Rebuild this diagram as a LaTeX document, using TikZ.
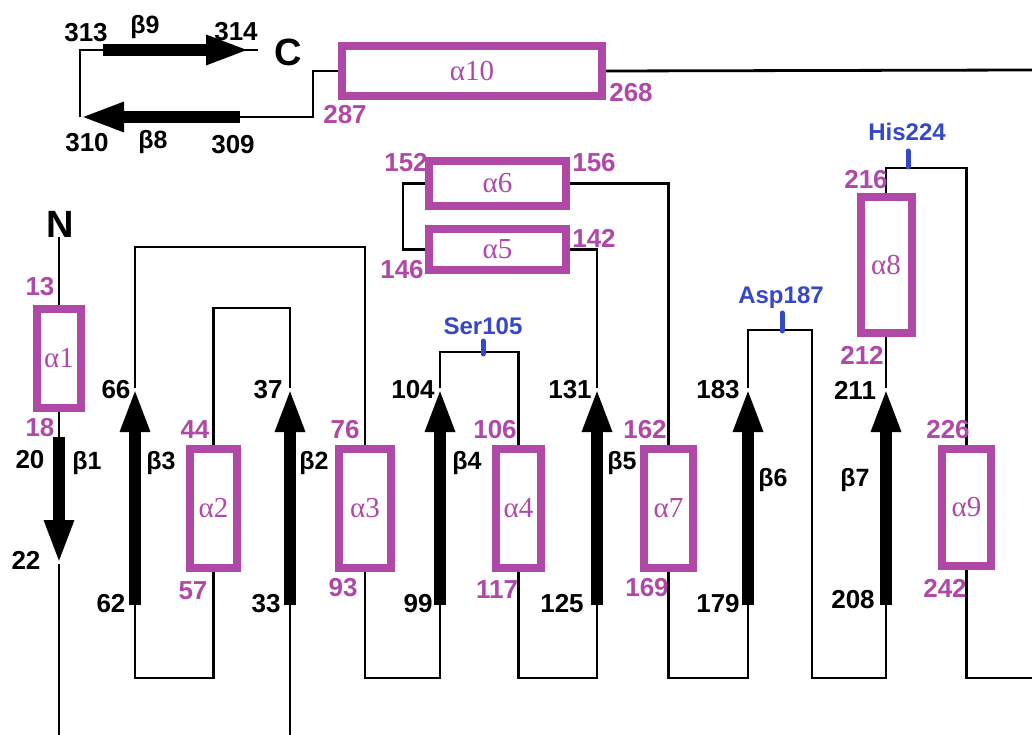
\documentclass[tikz,border=0pt]{standalone}
\usepackage{fontspec}
\setmainfont{Liberation Sans}
\newfontfamily\serifgreek{Liberation Serif}
\usetikzlibrary{arrows.meta}
\definecolor{mag}{RGB}{176,72,168}
\definecolor{blu}{RGB}{52,72,200}
\begin{document}
\begin{tikzpicture}[x=1pt,y=-1pt,
 loop/.style={line width=2.8pt, draw=black, line join=miter},
 strand/.style={line width=12pt, draw=black, -{Triangle[width=27pt,length=44pt]}},
 helix/.style={draw=mag, line width=8pt, fill=white, inner sep=0pt, outer sep=4pt, font=\serifgreek\fontsize{29}{29}\selectfont, text=mag},
 bnum/.style={font=\bfseries\fontsize{26}{26}\selectfont, inner sep=0pt, text=black},
 mnum/.style={font=\bfseries\fontsize{26}{26}\selectfont, inner sep=0pt, text=mag},
 blab/.style={font=\bfseries\fontsize{25}{25}\selectfont, inner sep=0pt, text=black},
 res/.style={font=\bfseries\fontsize{24}{24}\selectfont, text=blu, inner sep=0pt},
 big/.style={font=\bfseries\fontsize{38}{38}\selectfont, inner sep=0pt},
 tick/.style={draw=blu, line width=5pt, line cap=round}
]
\useasboundingbox[fill=white] (0,0) rectangle (1032,735);

% helices
\node[helix, minimum width=44pt, minimum height=99pt] (a1) at (59,358.5) {α1};
\node[helix, minimum width=47pt, minimum height=119pt] (a2) at (213.5,508.5) {α2};
\node[helix, minimum width=52pt, minimum height=119pt] (a3) at (365,508.5) {α3};
\node[helix, minimum width=45pt, minimum height=119pt] (a4) at (518.5,508.5) {α4};
\node[helix, minimum width=137pt, minimum height=41pt] (a5) at (497.5,249.5) {α5};
\node[helix, minimum width=137pt, minimum height=45pt] (a6) at (497.5,183.5) {α6};
\node[helix, minimum width=49pt, minimum height=119pt] (a7) at (668.5,508.5) {α7};
\node[helix, minimum width=51pt, minimum height=136pt] (a8) at (886,265) {α8};
\node[helix, minimum width=49pt, minimum height=117pt] (a9) at (966.5,507.5) {α9};
\node[helix, minimum width=260pt, minimum height=50pt] (a10) at (472,71) {α10};

% termini
\node[big] (N) at (60,224) {N};
\node[big] (C) at (288,52) {C};

% strand coordinates
\coordinate (b1t) at (59,437);   \coordinate (b1h) at (59,564);
\coordinate (b2t) at (290,605);  \coordinate (b2h) at (290,388);
\coordinate (b3t) at (135,605);  \coordinate (b3h) at (135,388);
\coordinate (b4t) at (440,605);  \coordinate (b4h) at (440,388);
\coordinate (b5t) at (597,605);  \coordinate (b5h) at (597,388);
\coordinate (b6t) at (748,605);  \coordinate (b6h) at (748,388);
\coordinate (b7t) at (886,605);  \coordinate (b7h) at (886,388);
\coordinate (b8t) at (240,117);  \coordinate (b8h) at (80,117);
\coordinate (b9t) at (103,50);   \coordinate (b9h) at (250,50);
\coordinate (nbot) at (59,735);
\coordinate (b2bot) at (290,735);
\coordinate (cend) at (258,50);
\coordinate (rA) at (1032,70);
\coordinate (rB) at (1032,678);

% loops
\draw[loop] (a1.north |- N.south) -- (a1.north);
\draw[loop] (a1.south) -- (b1t);
\draw[loop] (b1h) -- (nbot);
\draw[loop] (b2bot) -- (b2t);
\draw[loop] (b2h) |- (a2.north |- 0,308) -- (a2.north);
\draw[loop] (a2.south) |- (135,678) -- (b3t);
\draw[loop] (b3h) |- (a3.north |- 0,247) -- (a3.north);
\draw[loop] (a3.south) |- (440,678) -- (b4t);
\draw[loop] (b4h) |- (a4.north |- 0,352) -- (a4.north);
\draw[loop] (a4.south) |- (597,678) -- (b5t);
\draw[loop] (b5h) |- (a5.east);
\draw[loop] (a5.west) -- (403,249.5) |- (a6.west);
\draw[loop] (a6.east) -| (a7.north);
\draw[loop] (a7.south) |- (748,678) -- (b6t);
\draw[loop] (b6h) |- (812,330) |- (886,678) -- (b7t);
\draw[loop] (b7h) -- (a8.south);
\draw[loop] (a8.north) |- (a9.north |- 0,168) -- (a9.north);
\draw[loop] (a9.south) |- (rB);
\draw[loop] (rA) -- (a10.east);
\draw[loop] (a10.west) -| (313,117) -- (b8t);
\draw[loop] (b8h) |- (b9t);
\draw[loop] (b9t) -- (cend);

% strands
\draw[strand] (b1t) -- (b1h);
\draw[strand] (b2t) -- (b2h);
\draw[strand] (b3t) -- (b3h);
\draw[strand] (b4t) -- (b4h);
\draw[strand] (b5t) -- (b5h);
\draw[strand] (b6t) -- (b6h);
\draw[strand] (b7t) -- (b7h);
\draw[strand] (b8t) -- (b8h);
\draw[strand] (b9t) -- (b9h);

% active-site ticks
\draw[tick] (483,341) -- (483,354);
\draw[tick] (782,313) -- (782,331);
\draw[tick] (908,151) -- (908,167);
\node[res] (ser) at (483,326) {Ser105};
\node[res] (asp) at (781,298) {Asp187};
\node[res] (his) at (907,132) {His224};

% strand labels
\node[blab] (lb9) at (145,27) {β9};
\node[blab] (lb8) at (153,142) {β8};
\node[blab] (lb1) at (87,463) {β1};
\node[blab] (lb3) at (161,463) {β3};
\node[blab] (lb2) at (314,463) {β2};
\node[blab] (lb4) at (467,463) {β4};
\node[blab] (lb5) at (622,463) {β5};
\node[blab] (lb6) at (773,480) {β6};
\node[blab] (lb7) at (855,480) {β7};

% black residue numbers
\node[bnum] at (86,33) {313};
\node[bnum] at (236,32) {314};
\node[bnum] at (87,143) {310};
\node[bnum] at (233,145) {309};
\node[bnum] at (30,460) {20};
\node[bnum] at (26,560) {22};
\node[bnum] at (116,390) {66};
\node[bnum] at (111,604) {62};
\node[bnum] at (268,390) {37};
\node[bnum] at (266,604) {33};
\node[bnum] at (413,390) {104};
\node[bnum] at (418,604) {99};
\node[bnum] at (570,390) {131};
\node[bnum] at (562,604) {125};
\node[bnum] at (718,390) {183};
\node[bnum] at (718,604) {179};
\node[bnum] at (855,390) {211};
\node[bnum] at (853,600) {208};

% magenta residue numbers
\node[mnum] at (40,287) {13};
\node[mnum] at (40,428) {18};
\node[mnum] at (195,430) {44};
\node[mnum] at (193,591) {57};
\node[mnum] at (345,430) {76};
\node[mnum] at (343,588) {93};
\node[mnum] at (495,430) {106};
\node[mnum] at (497,590) {117};
\node[mnum] at (645,430) {162};
\node[mnum] at (647,588) {169};
\node[mnum] at (948,430) {226};
\node[mnum] at (945,588) {242};
\node[mnum] at (866,180) {216};
\node[mnum] at (862,355) {212};
\node[mnum] at (406,163) {152};
\node[mnum] at (594,163) {156};
\node[mnum] at (594,238) {142};
\node[mnum] at (402,270) {146};
\node[mnum] at (345,115) {287};
\node[mnum] at (631,93) {268};
\end{tikzpicture}
\end{document}
